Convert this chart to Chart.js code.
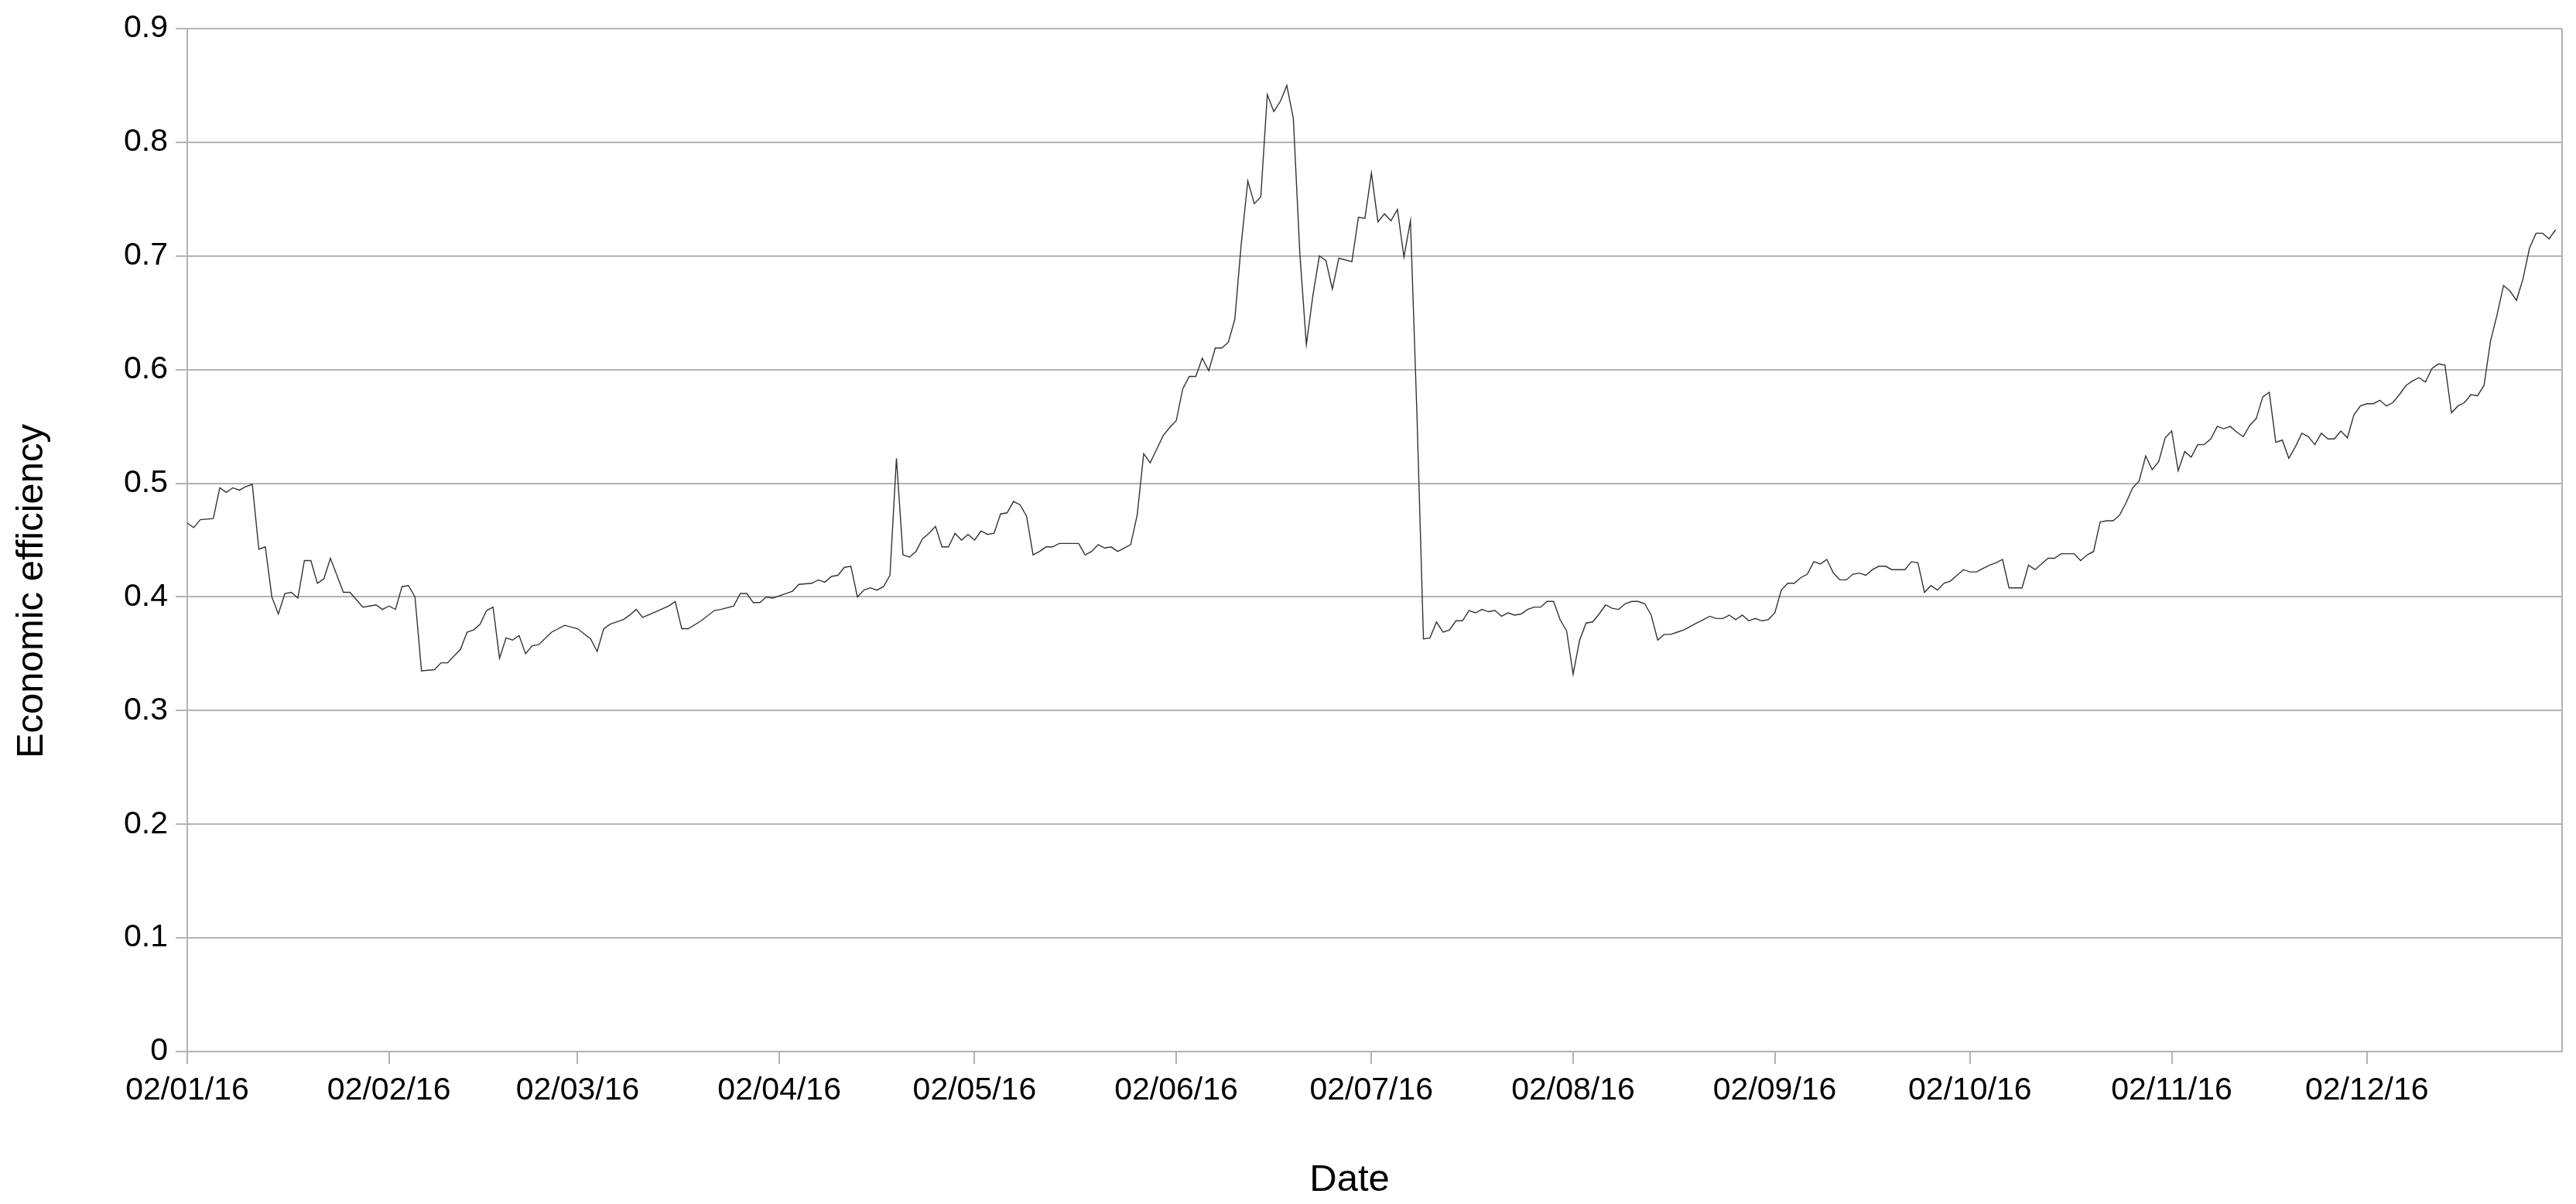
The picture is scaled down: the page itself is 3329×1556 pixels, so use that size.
<!DOCTYPE html>
<html>
<head>
<meta charset="utf-8">
<script src="https://cdn.jsdelivr.net/npm/chart.js@4/dist/chart.umd.min.js"></script>
<style>
  html, body { margin: 0; padding: 0; background: #fff; }
  #wrap { width: 3329px; height: 1556px; position: relative; }
</style>
</head>
<body>
<div id="wrap"><canvas id="myChart"></canvas></div>
<script>
// day offsets counted from 02/01/16
var days = [
  0, 1, 2, 4, 5, 6, 7, 8, 9, 10, 11, 12, 13, 14, 15, 16, 17, 18, 19, 20,
  21, 22, 24, 25, 27, 29, 30, 31, 32, 33, 34, 35, 36, 38, 39, 40, 42, 43, 44, 45,
  46, 47, 48, 49, 50, 51, 52, 53, 54, 56, 58, 60, 62, 63, 64, 65, 67, 68, 69, 70,
  72, 74, 75, 76, 77, 79, 81, 82, 84, 85, 86, 87, 88, 89, 90, 92, 93, 94, 96, 97,
  98, 99, 100, 101, 102, 103, 104, 105, 106, 107, 108, 109, 110, 111, 112, 113, 114, 115, 116, 117,
  118, 119, 120, 121, 122, 123, 124, 125, 126, 127, 128, 129, 130, 131, 132, 133, 134, 137, 138, 139,
  140, 141, 142, 143, 144, 145, 146, 147, 148, 149, 150, 151, 152, 153, 154, 155, 156, 157, 158, 159,
  160, 161, 162, 163, 164, 165, 166, 167, 168, 169, 170, 171, 172, 173, 174, 175, 176, 177, 179, 180,
  181, 182, 183, 184, 185, 186, 187, 188, 189, 190, 191, 192, 193, 194, 195, 196, 197, 198, 199, 200,
  201, 202, 203, 204, 205, 206, 207, 208, 209, 210, 211, 212, 213, 214, 215, 216, 217, 218, 219, 220,
  221, 222, 223, 224, 225, 226, 227, 228, 229, 230, 231, 232, 233, 234, 235, 236, 237, 238, 239, 240,
  241, 242, 243, 244, 245, 246, 247, 248, 249, 250, 251, 252, 253, 254, 255, 256, 257, 258, 259, 260,
  261, 262, 264, 265, 266, 267, 268, 269, 270, 271, 272, 273, 274, 275, 276, 277, 278, 279, 280, 282,
  283, 284, 285, 286, 287, 288, 290, 291, 292, 293, 294, 295, 296, 297, 298, 299, 300, 301, 302, 303,
  304, 305, 306, 307, 308, 309, 310, 311, 312, 313, 314, 315, 316, 317, 318, 319, 320, 321, 322, 323,
  324, 325, 326, 327, 328, 329, 330, 331, 332, 333, 334, 335, 336, 337, 338, 339, 340, 341, 342, 343,
  344, 345, 346, 347, 348, 349, 350, 351, 352, 353, 354, 355, 356, 357, 358, 359, 360, 361, 362, 363,
  364
];

var efficiency = [
  0.465, 0.461, 0.468, 0.469, 0.496, 0.492, 0.496, 0.494, 0.497, 0.499, 0.442, 0.444, 0.400, 0.385, 0.403, 0.404, 0.399, 0.432, 0.432, 0.412,
  0.416, 0.434, 0.404, 0.404, 0.391, 0.393, 0.389, 0.392, 0.389, 0.409, 0.410, 0.400, 0.335, 0.336, 0.342, 0.342, 0.354, 0.369, 0.371, 0.376,
  0.388, 0.391, 0.346, 0.364, 0.362, 0.366, 0.350, 0.357, 0.358, 0.369, 0.375, 0.372, 0.363, 0.352, 0.372, 0.376, 0.380, 0.384, 0.389, 0.382,
  0.387, 0.392, 0.396, 0.372, 0.372, 0.379, 0.388, 0.389, 0.392, 0.403, 0.403, 0.395, 0.395, 0.400, 0.399, 0.403, 0.405, 0.411, 0.412, 0.415,
  0.413, 0.418, 0.419, 0.426, 0.427, 0.400, 0.406, 0.408, 0.406, 0.409, 0.419, 0.522, 0.437, 0.435, 0.440, 0.451, 0.456, 0.462, 0.444, 0.444,
  0.456, 0.450, 0.455, 0.450, 0.458, 0.455, 0.456, 0.473, 0.474, 0.484, 0.481, 0.471, 0.437, 0.440, 0.444, 0.444, 0.447, 0.447, 0.437, 0.440,
  0.446, 0.443, 0.444, 0.440, 0.443, 0.446, 0.472, 0.526, 0.518, 0.530, 0.542, 0.549, 0.555, 0.583, 0.594, 0.594, 0.610, 0.599, 0.619, 0.619,
  0.624, 0.644, 0.711, 0.766, 0.746, 0.752, 0.842, 0.827, 0.836, 0.850, 0.821, 0.702, 0.622, 0.665, 0.700, 0.696, 0.671, 0.698, 0.695, 0.734,
  0.733, 0.773, 0.730, 0.737, 0.731, 0.741, 0.699, 0.731, 0.560, 0.363, 0.364, 0.378, 0.369, 0.371, 0.379, 0.379, 0.388, 0.386, 0.389, 0.387,
  0.388, 0.383, 0.386, 0.384, 0.385, 0.389, 0.391, 0.391, 0.396, 0.396, 0.380, 0.370, 0.332, 0.362, 0.377, 0.378, 0.385, 0.393, 0.390, 0.389,
  0.394, 0.396, 0.396, 0.394, 0.384, 0.362, 0.367, 0.367, 0.369, 0.371, 0.374, 0.377, 0.380, 0.383, 0.381, 0.381, 0.384, 0.380, 0.384, 0.379,
  0.381, 0.379, 0.380, 0.386, 0.406, 0.412, 0.412, 0.417, 0.420, 0.431, 0.429, 0.433, 0.421, 0.415, 0.415, 0.420, 0.421, 0.419, 0.424, 0.427,
  0.427, 0.424, 0.424, 0.431, 0.430, 0.404, 0.410, 0.406, 0.412, 0.414, 0.419, 0.424, 0.422, 0.422, 0.425, 0.428, 0.430, 0.433, 0.408, 0.408,
  0.428, 0.424, 0.429, 0.434, 0.434, 0.438, 0.438, 0.432, 0.437, 0.440, 0.466, 0.467, 0.467, 0.472, 0.483, 0.496, 0.502, 0.524, 0.512, 0.519,
  0.540, 0.546, 0.511, 0.528, 0.523, 0.534, 0.534, 0.539, 0.550, 0.548, 0.550, 0.545, 0.541, 0.551, 0.557, 0.576, 0.580, 0.536, 0.538, 0.522,
  0.532, 0.544, 0.541, 0.534, 0.544, 0.539, 0.539, 0.546, 0.540, 0.560, 0.568, 0.570, 0.570, 0.573, 0.568, 0.571, 0.578, 0.586, 0.590, 0.593,
  0.589, 0.601, 0.605, 0.604, 0.562, 0.568, 0.571, 0.578, 0.577, 0.586, 0.625, 0.648, 0.674, 0.669, 0.661, 0.680, 0.707, 0.720, 0.720, 0.715,
  0.723
];

var xTickDays = [0, 31, 60, 91, 121, 152, 182, 213, 244, 274, 305, 335];
var xTickLabels = ['02/01/16', '02/02/16', '02/03/16', '02/04/16', '02/05/16', '02/06/16',
                   '02/07/16', '02/08/16', '02/09/16', '02/10/16', '02/11/16', '02/12/16'];
var yTicks = [0, 0.1, 0.2, 0.3, 0.4, 0.5, 0.6, 0.7, 0.8, 0.9];

var gridColor = '#b3b3b3';
var font = 'Liberation Sans, Arial, sans-serif';

// right edge of the plot frame + axis titles (placed like the original, not centred on the plot)
var frameAndTitles = {
    id: 'frameAndTitles',
    afterDraw: function (chart) {
        var a = chart.chartArea, c = chart.ctx;
        c.save();
        c.strokeStyle = gridColor;
        c.lineWidth = 2;
        c.beginPath();
        c.moveTo(a.right, a.top);
        c.lineTo(a.right, a.bottom);
        c.stroke();

        c.fillStyle = '#000';
        c.font = '49px ' + font;
        c.textAlign = 'center';
        c.textBaseline = 'middle';
        c.fillText('Date', 1744, 1525);

        c.translate(41, 764);
        c.rotate(-Math.PI / 2);
        c.fillText('Economic efficiency', 0, 0);
        c.restore();
    }
};

var ctx = document.getElementById('myChart').getContext('2d');
var myChart = new Chart(ctx, {
    type: 'line',
    data: {
        datasets: [{
            label: 'Economic efficiency',
            data: days.map(function (d, i) { return { x: d, y: efficiency[i] }; }),
            borderColor: '#333333',
            borderWidth: 1.4,
            pointRadius: 0,
            tension: 0,
            fill: false
        }]
    },
    options: {
        responsive: true,
        maintainAspectRatio: false,
        animation: false,
        layout: { padding: { left: 0, top: 37, right: 18, bottom: 0 } },
        plugins: {
            legend: { display: false },
            tooltip: { enabled: false }
        },
        scales: {
            x: {
                type: 'linear',
                min: 0,
                max: 365,
                afterBuildTicks: function (scale) {
                    scale.ticks = xTickDays.map(function (v) { return { value: v }; });
                },
                afterFit: function (scale) { scale.height = 197; },
                grid: { drawOnChartArea: false, drawTicks: true, tickLength: 16, color: gridColor, lineWidth: 2 },
                border: { color: gridColor, width: 2 },
                ticks: {
                    autoSkip: false,
                    maxRotation: 0,
                    padding: 10,
                    color: '#000',
                    font: { family: font, size: 41 },
                    callback: function (v, i) { return xTickLabels[i]; }
                }
            },
            y: {
                min: 0,
                max: 0.9,
                afterBuildTicks: function (scale) {
                    scale.ticks = yTicks.map(function (v) { return { value: v }; });
                },
                afterFit: function (scale) { scale.width = 242; },
                grid: { color: gridColor, lineWidth: 2, tickLength: 15, drawTicks: true },
                border: { color: gridColor, width: 2 },
                ticks: {
                    padding: 10,
                    color: '#000',
                    font: { family: font, size: 41 },
                    callback: function (v) { return String(v); }
                }
            }
        }
    },
    plugins: [frameAndTitles]
});
</script>
</body>
</html>
